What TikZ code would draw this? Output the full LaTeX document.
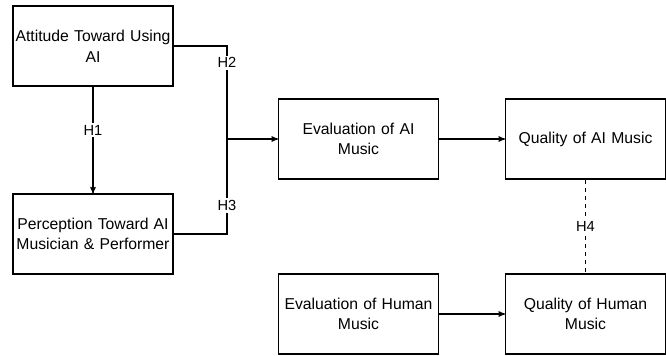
\documentclass[tikz,border=0pt]{standalone}
\usepackage{fontspec}
\setmainfont{Liberation Sans}
\usepackage{tikz}
\usetikzlibrary{arrows}

\begin{document}
\begin{tikzpicture}[x=0.75pt,y=-0.75pt,->,>=stealth',thick,
  main node/.style={rectangle,draw,fill=white,minimum width=120pt,minimum height=60pt,
    text width=120pt,align=center,inner sep=0pt,font=\fontsize{11.8}{15.5}\selectfont},
  hyp node/.style={fill=white,inner sep=1.5pt,font=\fontsize{11}{13}\selectfont}]
  \useasboundingbox (0,0) rectangle (666,356);
  \node[main node] (1) at (93,46)    {Attitude Toward Using\\AI};
  \node[main node] (2) at (93,234)   {Perception Toward AI\\Musician \& Performer};
  \node[main node] (3) at (358.5,139) {Evaluation of AI\\Music};
  \node[main node] (4) at (585.5,139) {Quality of AI Music};
  \node[main node] (5) at (358.5,314) {Evaluation of Human\\Music};
  \node[main node] (6) at (585.5,314) {Quality of Human\\Music};
  \coordinate (j) at (227,139);

  \draw (1) -- node[hyp node,pos=0.41] {H1} (2);
  \draw[-] (1.east) -| node[hyp node,pos=0.59] {H2} (j);
  \draw[-] (2.east) -| node[hyp node,pos=0.65] {H3} (j);
  \draw (j) -- (3);
  \draw (3) -- (4);
  \draw (5) -- (6);
  \draw[-,dashed,semithick] (4) -- node[hyp node] {H4} (6);
\end{tikzpicture}
\end{document}
